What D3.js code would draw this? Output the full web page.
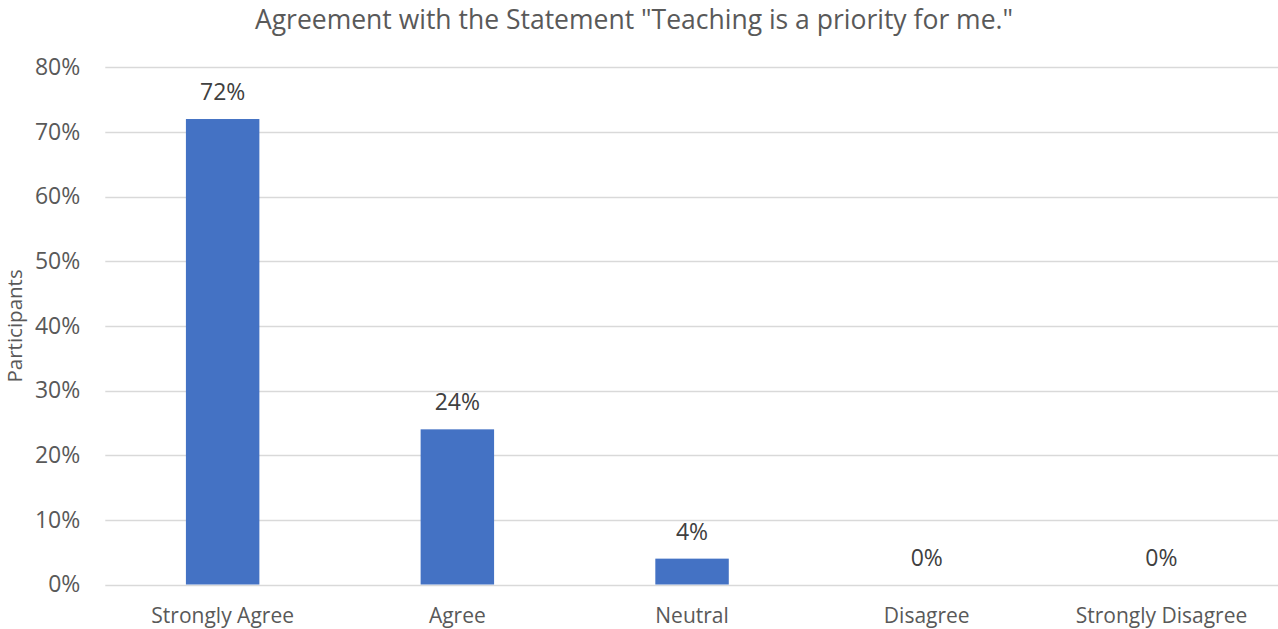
<!DOCTYPE html>
<html>
<head>
<meta charset="utf-8">
<script src="https://cdn.jsdelivr.net/npm/d3@7/dist/d3.min.js"></script>
<style>
  html, body { margin: 0; padding: 0; background: #fff; }
  svg { display: block; font-family: "Open Sans", "Noto Sans", sans-serif; }
</style>
</head>
<body>
<svg id="chart" width="1278" height="629"></svg>
<script>
// Survey responses: share of participants per agreement level
const categories = ["Strongly Agree", "Agree", "Neutral", "Disagree", "Strongly Disagree"];
const shares = [72, 24, 4, 0, 0];
const yTicks = [0, 10, 20, 30, 40, 50, 60, 70, 80];
const titleText = "Agreement with the Statement \"Teaching is a priority for me.\"";
const yTitle = "Participants";

const svg = d3.select("#chart");
const W = 1278, H = 629;
const margin = { top: 67.3, right: -0.8, bottom: 44.5, left: 105.3 };
const plotW = W - margin.left - margin.right;
const plotH = H - margin.top - margin.bottom;

const x = d3.scaleBand().domain(categories).range([margin.left, margin.left + plotW]).paddingInner(0.687).paddingOuter(0.3435);
const y = d3.scaleLinear().domain([0, 80]).range([margin.top + plotH, margin.top]);

// Title
svg.append("text")
  .attr("x", 634).attr("y", 28.5)
  .attr("text-anchor", "middle")
  .attr("font-size", 26.5)
  .attr("fill", "#595959")
  .text(titleText);

// Horizontal gridlines
svg.append("g")
  .selectAll("line")
  .data(yTicks)
  .join("line")
  .attr("x1", margin.left).attr("x2", margin.left + plotW)
  .attr("y1", d => Math.round(y(d)) + 0.5).attr("y2", d => Math.round(y(d)) + 0.5)
  .attr("stroke", "#d9d9d9")
  .attr("stroke-width", 1.3);

// Y axis labels
const yAxis = d3.axisLeft(y).tickValues(yTicks).tickFormat(d => d + "%").tickSize(0).tickPadding(0);
const gy = svg.append("g").attr("transform", `translate(${margin.left - 25},0)`).call(yAxis);
gy.select(".domain").remove();
gy.selectAll("text").attr("font-size", 23).attr("fill", "#595959").attr("font-family", "\"Open Sans\", sans-serif");

// Y axis title
svg.append("text")
  .attr("transform", `translate(22,${(y(0) + y(80)) / 2}) rotate(-90)`)
  .attr("text-anchor", "middle")
  .attr("font-size", 20.5)
  .attr("fill", "#595959")
  .text(yTitle);

// Bars
svg.append("g")
  .selectAll("rect")
  .data(shares)
  .join("rect")
  .attr("x", (d, i) => x(categories[i]))
  .attr("width", x.bandwidth())
  .attr("y", d => y(d))
  .attr("height", d => y(0) - y(d))
  .attr("fill", "#4472C4");

// Value labels
svg.append("g")
  .selectAll("text")
  .data(shares)
  .join("text")
  .attr("x", (d, i) => x(categories[i]) + x.bandwidth() / 2)
  .attr("y", d => y(d) - 19)
  .attr("text-anchor", "middle")
  .attr("font-size", 23)
  .attr("fill", "#404040")
  .text(d => d + "%");

// X axis category labels
const xAxis = d3.axisBottom(x).tickSize(0).tickPadding(0);
const gx = svg.append("g").attr("transform", `translate(0,${y(0)})`).call(xAxis);
gx.select(".domain").remove();
gx.selectAll("text")
  .attr("dy", 0).attr("y", 38)
  .attr("font-size", 21).attr("fill", "#595959")
  .attr("font-family", "\"Open Sans\", sans-serif");
</script>
</body>
</html>
